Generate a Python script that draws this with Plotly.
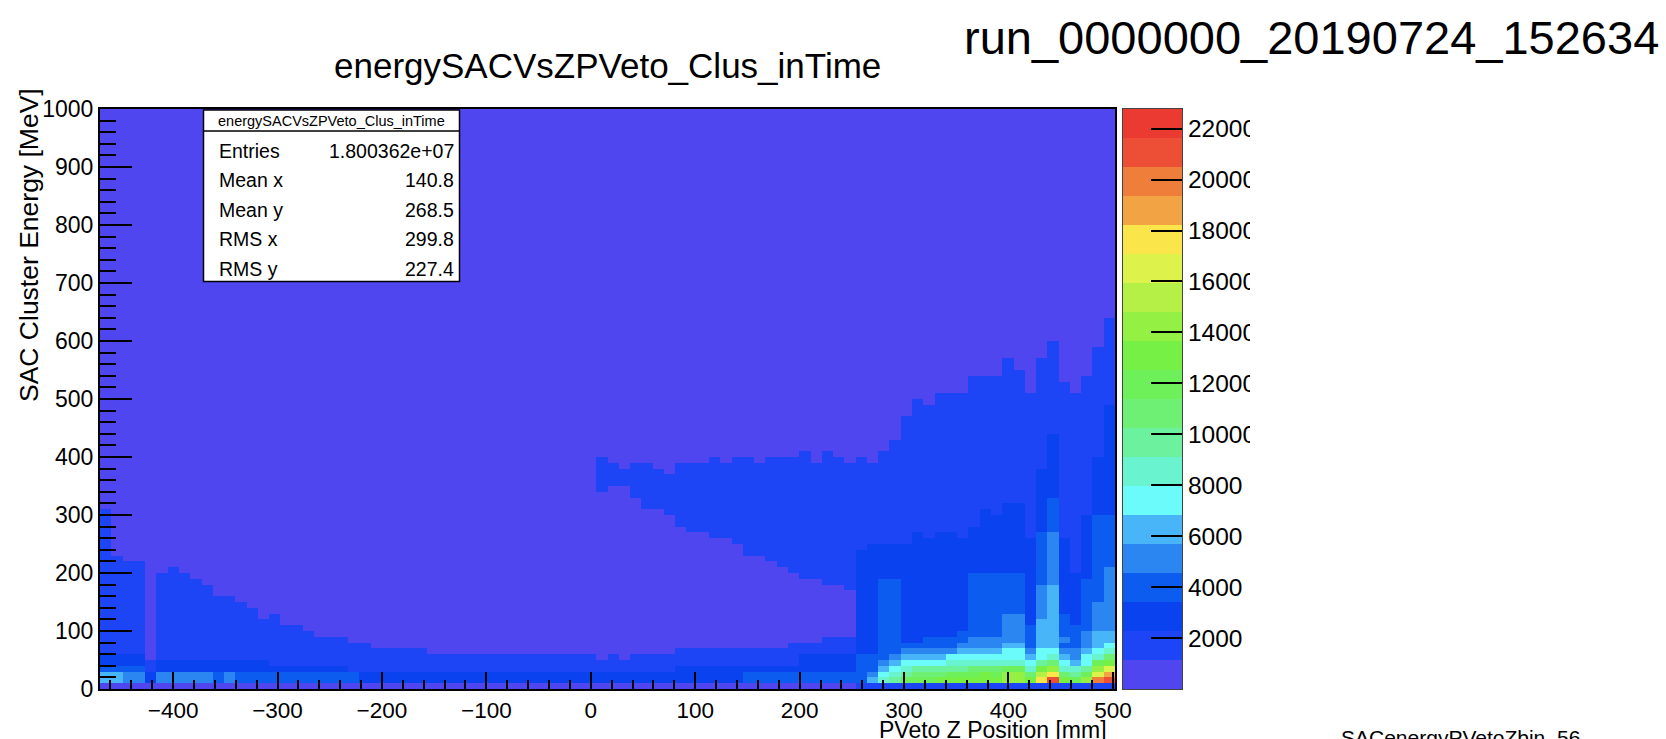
import plotly.graph_objects as go

# ---------------- data ----------------
x_min, x_bin_width, n_x_bins = -470.0, 10.8, 90
y_bin_width, n_y_bins = 10.0, 100
z_max = 22770.0
n_levels = 20

# colour of each contour level, lowest -> highest
level_colors = [
    "#5046f0", "#1e45f5", "#0a42ef", "#0c5cf0", "#2c86f2",
    "#47b5f7", "#6cfbfb", "#6af3cf", "#6cf19f", "#6ef075",
    "#6ef05a", "#76f045", "#94f043", "#b4f046", "#ddf24b",
    "#fae54a", "#f2a444", "#ee7e3a", "#ec4e36", "#ea3a32",
]

# upper edge (MeV) of the region at level >= 1, per x bin
top_level1 = [
    310, 230, 220, 220, 50, 200, 210, 200, 190, 180,
    160, 160, 150, 140, 120, 130, 110, 110, 100, 90,
    90, 90, 80, 80, 70, 70, 70, 70, 70, 60,
    60, 60, 60, 60, 60, 60, 60, 60, 60, 60,
    60, 60, 60, 60, 50, 60, 50, 60, 60, 60,
    60, 70, 70, 70, 70, 70, 70, 70, 70, 70,
    70, 80, 80, 80, 90, 90, 90, 400, 390, 410,
    430, 470, 500, 490, 510, 510, 510, 540, 540, 540,
    570, 550, 510, 570, 600, 530, 510, 540, 590, 640,
]
# separate diagonal island (level 1), lower / upper edge in MeV
band_low = [0] * 44 + [
    340, 350, 350, 330, 310, 310, 300, 280, 270, 270,
    260, 260, 250, 230, 230, 220, 210, 200, 190, 190,
    180, 180, 170] + [0] * 23
band_high = [0] * 44 + [
    400, 390, 380, 390, 390, 380, 370, 390, 390, 390,
    400, 390, 400, 400, 390, 400, 400, 400, 410, 390,
    410, 400, 390] + [0] * 23
top_level2 = [
    60, 60, 60, 60, 30, 50, 50, 50, 50, 50,
    50, 50, 50, 50, 50, 40, 40, 40, 40, 40,
    40, 40, 30, 30, 30, 30, 30, 30, 30, 30,
    30, 30, 30, 30, 30, 30, 30, 30, 30, 30,
    30, 30, 30, 30, 30, 30, 30, 30, 30, 30,
    30, 40, 40, 40, 40, 40, 40, 40, 40, 40,
    40, 40, 60, 60, 60, 60, 60, 240, 250, 250,
    250, 250, 270, 260, 270, 270, 260, 280, 310, 300,
    320, 320, 260, 380, 440, 260, 200, 300, 400, 490,
]
top_level3 = [
    40, 40, 40, 40, 0, 30, 30, 30, 30, 30,
    30, 30, 30, 30, 30, 30, 30, 30, 30, 30,
    30, 30, 30, 0, 0, 0, 0, 0, 0, 0,
    0, 0, 0, 0, 0, 0, 0, 0, 0, 0,
    0, 0, 0, 0, 0, 0, 0, 0, 0, 0,
    0, 0, 0, 0, 0, 0, 0, 30, 30, 30,
    30, 30, 30, 30, 30, 30, 30, 60, 60, 190,
    190, 80, 80, 90, 90, 90, 100, 200, 200, 200,
    200, 200, 110, 270, 330, 130, 110, 190, 300, 300,
]
top_level4 = [
    30, 30, 30, 30, 0, 30, 30, 30, 30, 30,
    0, 30, 0, 0, 0, 0, 0, 0, 0, 0,
    0, 0, 0, 0, 0, 0, 0, 0, 0, 0,
    0, 0, 0, 0, 0, 0, 0, 0, 0, 0,
    0, 0, 0, 0, 0, 0, 0, 0, 0, 0,
    0, 0, 0, 0, 0, 0, 0, 0, 0, 0,
    0, 0, 0, 0, 0, 0, 0, 0, 0, 0,
    0, 0, 0, 0, 0, 0, 0, 90, 90, 90,
    130, 130, 0, 180, 270, 90, 0, 100, 150, 210,
]
top_level5 = [30, 30] + [0] * 81 + [120, 180, 0, 0, 0, 100, 100]
# level of the first row (0-10 MeV)
row0_level = [0] * 67 + [1] * 23

# explicit levels of rows 1..7 (10-80 MeV) for x bins 68..89
hot_first_bin = 68
hot_row1 = [5, 7, 8, 10, 10, 10, 11, 11, 11, 11, 11, 11, 12, 12, 11, 15, 18, 11, 10, 12, 17, 18]
hot_row2 = [4, 6, 7, 8, 9, 9, 9, 10, 10, 10, 11, 10, 12, 12, 9, 13, 15, 9, 8, 10, 14, 16]
hot_row3 = [3, 5, 6, 7, 8, 8, 8, 8, 8, 9, 9, 9, 10, 10, 7, 11, 12, 7, 7, 8, 12, 14]
hot_row4 = [3, 4, 5, 6, 6, 6, 6, 7, 7, 7, 7, 7, 7, 7, 6, 8, 9, 6, 5, 6, 10, 11]
hot_row5 = [3, 3, 4, 5, 5, 5, 5, 6, 6, 6, 6, 6, 6, 6, 5, 6, 7, 5, 4, 6, 7, 9]
hot_row6 = [2, 3, 3, 4, 4, 4, 4, 4, 5, 5, 5, 5, 6, 6, 4, 6, 6, 4, 4, 5, 6, 7]
hot_row7 = [2, 3, 3, 3, 3, 3, 3, 3, 4, 4, 4, 4, 5, 5, 3, 5, 5, 3, 3, 4, 5, 6]

palette_ticks = [2000, 4000, 6000, 8000, 10000, 12000, 14000, 16000, 18000, 20000, 22000]

title_text = "energySACVsZPVeto_Clus_inTime"
run_text = "run_0000000_20190724_152634"
x_title = "PVeto Z Position [mm]"
y_title = "SAC Cluster Energy [MeV]"
footer_text = "SACenergyPVetoZbin_56"
stats_names = ["Entries", "Mean x", "Mean y", "RMS x", "RMS y"]
stats_values = ["1.800362e+07", "140.8", "268.5", "299.8", "227.4"]

# ---------------- build the histogram ----------------
hot_rows = [hot_row1, hot_row2, hot_row3, hot_row4, hot_row5, hot_row6, hot_row7]
level_width = z_max / n_levels
x_edges = [x_min + i * x_bin_width for i in range(n_x_bins + 1)]
y_edges = [j * y_bin_width for j in range(n_y_bins + 1)]

z = []
for r in range(n_y_bins):
    yc = (r + 0.5) * y_bin_width
    row = []
    for c in range(n_x_bins):
        if r == 0:
            lvl = row0_level[c]
        elif c >= hot_first_bin and r <= len(hot_rows):
            lvl = hot_rows[r - 1][c - hot_first_bin]
        else:
            lvl = 0
            if yc < top_level1[c] or (band_low[c] < yc < band_high[c]):
                lvl = 1
            for k, tops in enumerate([top_level2, top_level3, top_level4, top_level5], start=2):
                if yc < tops[c]:
                    lvl = max(lvl, k)
        row.append((lvl + 0.5) * level_width)
    z.append(row)

colorscale = []
for i, col in enumerate(level_colors):
    colorscale.append([i / n_levels, col])
    colorscale.append([(i + 1) / n_levels, col])

pal_edges = [i * level_width for i in range(n_levels + 1)]
pal_z = [[(i + 0.5) * level_width] for i in range(n_levels)]

# ---------------- geometry (pixels) ----------------
W, H = 1666, 739
PL, PR, PT, PB = 100, 1260, 109, 689


def fx(p):
    return (p - PL) / (PR - PL)


def fy(p):
    return (PB - p) / (PB - PT)


FONT = "Liberation Sans, Arial, Helvetica, sans-serif"

fig = go.Figure()
fig.add_trace(go.Heatmap(
    x=x_edges, y=y_edges, z=z, zmin=0, zmax=z_max, colorscale=colorscale,
    showscale=False, hoverinfo="skip", xaxis="x", yaxis="y"))
fig.add_trace(go.Heatmap(
    x=[0, 1], y=pal_edges, z=pal_z, zmin=0, zmax=z_max, colorscale=colorscale,
    showscale=False, hoverinfo="skip", xaxis="x2", yaxis="y2"))

axis_common = dict(showgrid=False, zeroline=False, automargin=False,
                   showline=True, linecolor="black", mirror=True)

fig.update_layout(
    template="none",
    width=W, height=H,
    margin=dict(l=PL, r=W - PR, t=PT, b=H - PB, pad=0),
    paper_bgcolor="white", plot_bgcolor="white",
    font=dict(family=FONT, color="black"),
    hovermode=False,
    showlegend=False,
    xaxis=dict(axis_common, domain=[0, fx(1115)], range=[x_edges[0], x_edges[-1]],
               anchor="y", tickmode="linear", tick0=0, dtick=100,
               ticks="inside", ticklen=17, tickwidth=2, tickcolor="black",
               minor=dict(tick0=0, dtick=20, ticks="inside", ticklen=9, tickwidth=2, tickcolor="black"),
               linewidth=2, tickfont=dict(size=22.5, family=FONT, color="black")),
    yaxis=dict(axis_common, domain=[0, 1], range=[0, 1000], anchor="x",
               tickmode="linear", tick0=0, dtick=100,
               ticks="inside", ticklen=32, tickwidth=2, tickcolor="black",
               minor=dict(tick0=0, dtick=20, ticks="inside", ticklen=16, tickwidth=2, tickcolor="black"),
               linewidth=2, tickfont=dict(size=23, family=FONT, color="black")),
    xaxis2=dict(axis_common, domain=[fx(1123), fx(1182)], range=[0, 1], anchor="y2",
                showticklabels=False, ticks="", linewidth=1, linecolor="#444444"),
    yaxis2=dict(axis_common, domain=[0, 1], range=[0, z_max], anchor="x2", side="right",
                tickmode="array", tickvals=palette_ticks, ticktext=[str(v) for v in palette_ticks],
                ticks="inside", ticklen=31, tickwidth=2, tickcolor="black",
                linewidth=1, linecolor="#444444",
                tickfont=dict(size=24.5, family=FONT, color="black")),
)

shapes = [
    # clip of the palette labels
    dict(type="rect", xref="paper", yref="paper", x0=fx(1250), x1=fx(1340),
         y0=fy(670), y1=fy(100), fillcolor="white", line=dict(width=0), layer="above"),
    # statistics box
    dict(type="rect", xref="paper", yref="paper", x0=fx(203.5), x1=fx(459.5),
         y0=fy(281.5), y1=fy(110), fillcolor="white", line=dict(color="black", width=1.5), layer="above"),
    dict(type="line", xref="paper", yref="paper", x0=fx(203.5), x1=fx(459.5),
         y0=fy(131), y1=fy(131), line=dict(color="black", width=1.5), layer="above"),
]

ann = [
    dict(text=title_text, x=fx(607), y=fy(65), xanchor="center", yanchor="middle",
         font=dict(size=35)),
    dict(text=run_text, x=fx(1311.5), y=fy(38), xanchor="center", yanchor="middle",
         font=dict(size=47)),
    dict(text=y_title, x=fx(29), y=fy(87), xanchor="center", yanchor="top",
         textangle=-90, font=dict(size=26.5)),
    dict(text=x_title, x=fx(1108), y=fy(716), xanchor="right", yanchor="top",
         font=dict(size=23)),
    dict(text=footer_text, x=fx(1340), y=fy(725), xanchor="left", yanchor="top",
         font=dict(size=21)),
    dict(text=title_text, x=fx(331.5), y=fy(121), xanchor="center", yanchor="middle",
         font=dict(size=14.5)),
]
for i, (name, val) in enumerate(zip(stats_names, stats_values)):
    yc = 151 + 29.4 * i
    ann.append(dict(text=name, x=fx(218), y=fy(yc), xanchor="left", yanchor="middle",
                    font=dict(size=19.5)))
    ann.append(dict(text=val, x=fx(455), y=fy(yc), xanchor="right", yanchor="middle",
                    font=dict(size=19.5)))

for a in ann:
    a.update(xref="paper", yref="paper", showarrow=False, borderpad=0)
    a["font"].update(family=FONT, color="black")

fig.update_layout(shapes=shapes, annotations=ann)

fig.write_html("out.html")
